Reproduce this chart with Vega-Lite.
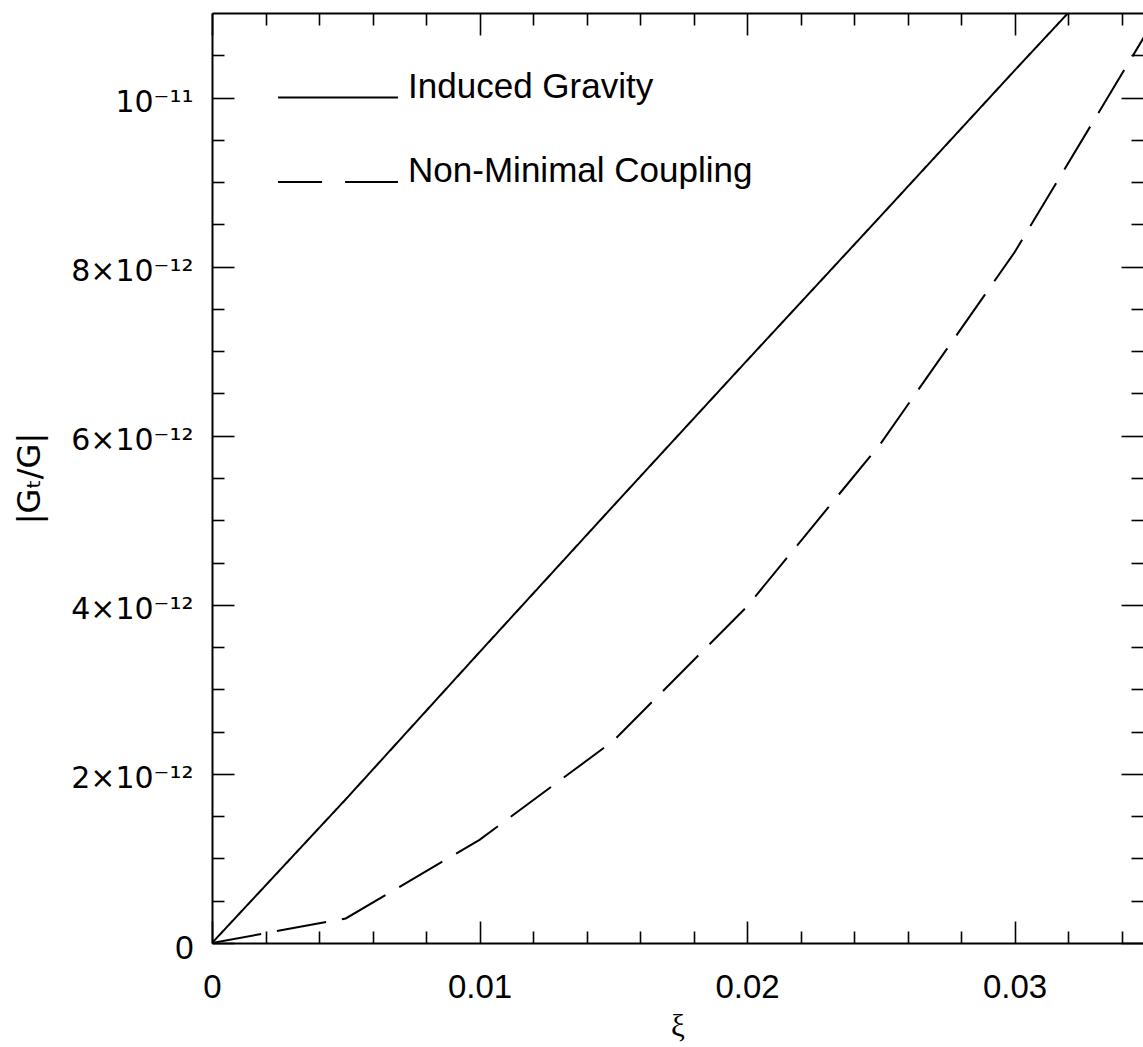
{
  "$schema": "https://vega.github.io/schema/vega-lite/v6.json",
  "autosize": "none",
  "width": 931,
  "height": 930,
  "padding": {"left": 212, "top": 13, "right": 0, "bottom": 104},
  "background": "white",
  "config": {
    "view": {"stroke": null},
    "axis": {"grid": false, "domainColor": "black", "tickColor": "black", "labelColor": "black", "titleColor": "black", "domainWidth": 2, "tickWidth": 1.6}
  },
  "datasets": {
    "curves": [
      {"series": "Induced Gravity", "xi": 0, "val": 0},
      {"series": "Induced Gravity", "xi": 0.005, "val": 1.70e-12},
      {"series": "Induced Gravity", "xi": 0.01, "val": 3.44e-12},
      {"series": "Induced Gravity", "xi": 0.015, "val": 5.17e-12},
      {"series": "Induced Gravity", "xi": 0.02, "val": 6.89e-12},
      {"series": "Induced Gravity", "xi": 0.025, "val": 8.60e-12},
      {"series": "Induced Gravity", "xi": 0.03, "val": 10.32e-12},
      {"series": "Induced Gravity", "xi": 0.032, "val": 11.0e-12},
      {"series": "Non-Minimal Coupling", "xi": 0, "val": 0},
      {"series": "Non-Minimal Coupling", "xi": 0.005, "val": 0.29e-12},
      {"series": "Non-Minimal Coupling", "xi": 0.01, "val": 1.22e-12},
      {"series": "Non-Minimal Coupling", "xi": 0.015, "val": 2.39e-12},
      {"series": "Non-Minimal Coupling", "xi": 0.02, "val": 3.98e-12},
      {"series": "Non-Minimal Coupling", "xi": 0.025, "val": 5.91e-12},
      {"series": "Non-Minimal Coupling", "xi": 0.03, "val": 8.17e-12},
      {"series": "Non-Minimal Coupling", "xi": 0.035, "val": 10.8e-12}
    ],
    "legend": [
      {"series": "Induced Gravity", "lx0": 0.00247, "lx1": 0.00695, "tx": 0.00733, "ly": 1e-11},
      {"series": "Non-Minimal Coupling", "lx0": 0.00247, "lx1": 0.00695, "tx": 0.00733, "ly": 9e-12}
    ]
  },
  "resolve": {"axis": {"x": "independent", "y": "independent"}, "scale": {"strokeDash": "independent"}},
  "layer": [
    {
      "data": {"name": "curves"},
      "mark": {"type": "line", "color": "black", "strokeWidth": 2, "clip": true, "strokeCap": "butt"},
      "encoding": {
        "x": {"field": "xi", "type": "quantitative", "scale": {"domain": [0, 0.0348], "nice": false, "zero": false},
          "axis": {"orient": "bottom", "values": [0, 0.01, 0.02, 0.03], "ticks": false, "labelPadding": 54, "labelBaseline": "alphabetic", "labelFont": "Liberation Sans", "labelFontSize": 33, "labelExpr": "format(datum.value, '.2~f')", "labelFlush": false, "labelOverlap": false,
            "title": "ξ", "titleFont": "Liberation Serif", "titleFontSize": 31, "titleFontWeight": "normal", "titlePadding": 7}},
        "y": {"field": "val", "type": "quantitative", "scale": {"domain": [0, 1.1e-11], "nice": false, "zero": false},
          "axis": {"orient": "left", "values": [0, 2e-12, 4e-12, 6e-12, 8e-12, 1e-11], "ticks": false, "labelPadding": 19, "labelOffset": 5,
            "labelFont": {"condition": {"test": "datum.value == 0", "value": "Liberation Sans"}, "value": "DejaVu Sans"},
            "labelFontSize": {"condition": {"test": "datum.value == 0", "value": 33}, "value": 30},
            "labelExpr": "datum.value == 0 ? '0' : (datum.value > 9.9e-12 ? '10⁻¹¹' : round(datum.value * 1e12) + '×10⁻¹²')",
            "labelFlush": false, "labelOverlap": false,
            "title": "|Gₜ/G|", "titleFont": "DejaVu Sans", "titleFontSize": 32, "titleFontWeight": "normal", "titlePadding": 24}},
        "strokeDash": {"field": "series", "type": "nominal", "scale": {"domain": ["Induced Gravity", "Non-Minimal Coupling"], "range": [[1, 0], [50, 16]]}, "legend": null},
        "detail": {"field": "series"}
      }
    },
    {
      "data": {"name": "curves"},
      "mark": {"type": "point", "opacity": 0},
      "encoding": {
        "x": {"field": "xi", "type": "quantitative", "axis": {"orient": "bottom", "values": [0, 0.01, 0.02, 0.03], "tickSize": -22, "labels": false, "domain": false, "title": null}},
        "y": {"field": "val", "type": "quantitative", "axis": {"orient": "left", "values": [0, 2e-12, 4e-12, 6e-12, 8e-12, 1e-11], "tickSize": -22, "labels": false, "domain": false, "title": null}}
      }
    },
    {
      "data": {"name": "curves"},
      "mark": {"type": "point", "opacity": 0},
      "encoding": {
        "x": {"field": "xi", "type": "quantitative", "axis": {"orient": "bottom", "values": [0.002, 0.004, 0.006, 0.008, 0.012, 0.014, 0.016, 0.018, 0.022, 0.024, 0.026, 0.028, 0.032, 0.034], "tickSize": -12, "labels": false, "domain": false, "title": null}},
        "y": {"field": "val", "type": "quantitative", "axis": {"orient": "left", "values": [5e-13, 1e-12, 1.5e-12, 2.5e-12, 3e-12, 3.5e-12, 4.5e-12, 5e-12, 5.5e-12, 6.5e-12, 7e-12, 7.5e-12, 8.5e-12, 9e-12, 9.5e-12, 1.05e-11], "tickSize": -12, "labels": false, "domain": false, "title": null}}
      }
    },
    {
      "data": {"name": "curves"},
      "mark": {"type": "point", "opacity": 0},
      "encoding": {
        "x": {"field": "xi", "type": "quantitative", "axis": {"orient": "top", "values": [0, 0.01, 0.02, 0.03], "tickSize": -22, "labels": false, "domain": true, "title": null}},
        "y": {"field": "val", "type": "quantitative", "axis": {"orient": "right", "values": [0, 2e-12, 4e-12, 6e-12, 8e-12, 1e-11], "tickSize": -22, "labels": false, "domain": false, "title": null}}
      }
    },
    {
      "data": {"name": "curves"},
      "mark": {"type": "point", "opacity": 0},
      "encoding": {
        "x": {"field": "xi", "type": "quantitative", "axis": {"orient": "top", "values": [0.002, 0.004, 0.006, 0.008, 0.012, 0.014, 0.016, 0.018, 0.022, 0.024, 0.026, 0.028, 0.032, 0.034], "tickSize": -12, "labels": false, "domain": false, "title": null}},
        "y": {"field": "val", "type": "quantitative", "axis": {"orient": "right", "values": [5e-13, 1e-12, 1.5e-12, 2.5e-12, 3e-12, 3.5e-12, 4.5e-12, 5e-12, 5.5e-12, 6.5e-12, 7e-12, 7.5e-12, 8.5e-12, 9e-12, 9.5e-12, 1.05e-11], "tickSize": -12, "labels": false, "domain": false, "title": null}}
      }
    },
    {
      "data": {"name": "legend"},
      "mark": {"type": "rule", "color": "black", "strokeWidth": 2, "strokeCap": "butt"},
      "encoding": {
        "x": {"field": "lx0", "type": "quantitative", "axis": null},
        "x2": {"field": "lx1"},
        "y": {"field": "ly", "type": "quantitative", "axis": null},
        "strokeDash": {"field": "series", "type": "nominal", "scale": {"domain": ["Induced Gravity", "Non-Minimal Coupling"], "range": [[1, 0], [44, 23, 53, 23]]}, "legend": null}
      }
    },
    {
      "data": {"name": "legend"},
      "mark": {"type": "text", "align": "left", "baseline": "alphabetic", "font": "Liberation Sans", "fontSize": 35, "color": "black"},
      "encoding": {
        "x": {"field": "tx", "type": "quantitative", "axis": null},
        "y": {"field": "ly", "type": "quantitative", "axis": null},
        "text": {"field": "series"}
      }
    }
  ]
}
